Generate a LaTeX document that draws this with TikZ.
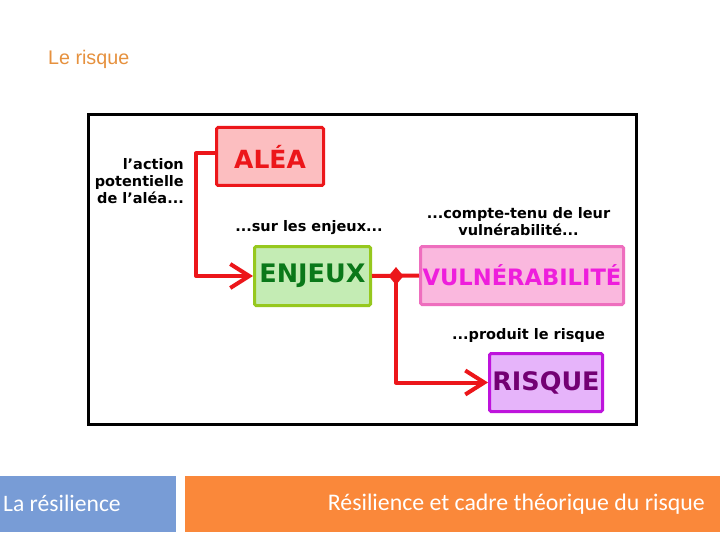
\documentclass[tikz,border=0pt]{standalone}
\usepackage{fontspec}
\setmainfont{DejaVu Sans}
\newfontfamily\calib{Carlito}
\newfontfamily\arialf{Liberation Sans}
\usetikzlibrary{arrows.meta,shapes.geometric,calc}
\definecolor{rred}{RGB}{236,22,26}
\definecolor{aleafill}{RGB}{252,190,192}
\definecolor{enjborder}{RGB}{150,200,30}
\definecolor{enjfill}{RGB}{196,236,180}
\definecolor{enjtext}{RGB}{10,120,25}
\definecolor{vulborder}{RGB}{238,110,190}
\definecolor{vulfill}{RGB}{250,184,222}
\definecolor{vultext}{RGB}{238,30,220}
\definecolor{risborder}{RGB}{190,20,220}
\definecolor{risfill}{RGB}{230,180,250}
\definecolor{ristext}{RGB}{115,0,115}
\definecolor{titleor}{RGB}{230,145,62}
\definecolor{barblue}{RGB}{120,156,214}
\definecolor{barorange}{RGB}{250,136,58}
\tikzset{
  box/.style={draw, line width=3pt, rounded corners=1.5pt, inner sep=0pt,
    font=\fontsize{25.5}{28}\selectfont\bfseries},
  lbl/.style={font=\fontsize{14.5}{17}\selectfont\bfseries, inner sep=0pt, text=black},
  conn/.style={draw=rred, line width=4pt},
  tip/.style={-{Straight Barb[length=19pt,width=24pt,line width=4pt]}},
}
\begin{document}
\begin{tikzpicture}[x=1pt,y=-1pt]
\useasboundingbox (0,0) rectangle (720,540);
\fill[white] (0,0) rectangle (720,540);
% title
\node[anchor=west, inner sep=0pt, text=titleor, font=\arialf\fontsize{19.7}{22}\selectfont] (title) at (48,59) {Le risque};
% frame
\draw[line width=3pt] (88.5,114.5) rectangle (636.5,424.5);
% boxes
\node[box, draw=rred, fill=aleafill, text=rred, minimum width=107, minimum height=58, font=\fontsize{25}{28}\selectfont\bfseries] (alea) at (270,156.5) {ALÉA};
\node[box, draw=enjborder, fill=enjfill, text=enjtext, minimum width=116, minimum height=59] (enjeux) at (312.5,276) {ENJEUX};
\node[box, draw=vulborder, fill=vulfill, text=vultext, minimum width=203, minimum height=58, font=\fontsize{22.6}{26}\selectfont\bfseries] (vuln) at (522,275.5) {VULNÉRABILITÉ};
\node[box, draw=risborder, fill=risfill, text=ristext, minimum width=113, minimum height=58] (risque) at (546,382.5) {RISQUE};
% labels
\node[lbl, anchor=east, align=right] (l1) at (184,181.5) {l’action\\potentielle\\de l’aléa...};
\node[lbl] (l2) at (309,228) {...sur les enjeux...};
\node[lbl, align=center] (l3) at (518.5,221.5) {...compte-tenu de leur\\vulnérabilité...};
\node[lbl] (l4) at (528.5,335) {...produit le risque};
% connectors
\coordinate (a1) at ($(alea.west)+(-19,-3)$);
\draw[conn, tip, line join=round] ($(alea.west)+(0,-3)$) -- (a1) |- (enjeux.west);
\draw[conn] (enjeux.east) -- (vuln.west);
\coordinate (j) at (396,276);
\node[diamond, fill=rred, inner sep=0pt, minimum width=15, minimum height=18] (jd) at (j) {};
\draw[conn, tip, line join=round] (jd.center) |- (risque.west);
% bottom bars
\fill[barblue] (0,476) rectangle (176,532);
\fill[barorange] (185,476) rectangle (720,532);
\node[anchor=base west, inner sep=0pt, text=white, font=\calib\fontsize{23.6}{26}\selectfont] (b1) at (3,511) {La résilience};
\node[anchor=base east, inner sep=0pt, text=white, font=\calib\fontsize{23.8}{26}\selectfont] (b2) at (705,510.5) {Résilience et cadre théorique du risque};
\end{tikzpicture}
\end{document}
